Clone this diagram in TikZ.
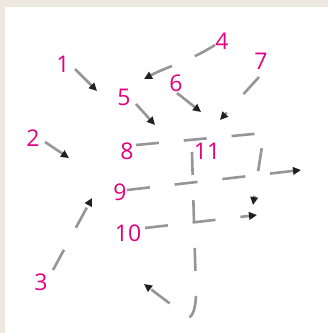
\documentclass[tikz,border=0pt]{standalone}
\usepackage{fontspec}
\usetikzlibrary{arrows.meta}
\newfontfamily\numfont{Open Sans}
\definecolor{pageBeige}{RGB}{237,233,223}
\definecolor{strokeGray}{RGB}{150,150,153}
\definecolor{numPink}{RGB}{228,0,127}
\definecolor{tipBlack}{RGB}{35,31,32}
\tikzset{
  num/.style={text=numPink, inner sep=0pt, font=\numfont\fontsize{23}{23}\selectfont},
  seg/.style={draw=strokeGray, line width=2.6pt, dash pattern=on 23pt off 25pt},
  segarrow/.style={seg, -{Triangle[length=8pt, width=7.5pt, color=tipBlack]}}
}
\begin{document}
\begin{tikzpicture}[x=1pt, y=-1pt]
\fill[pageBeige] (0,0) rectangle (328,333);
\fill[white] (5,7) rectangle (328,333);
\useasboundingbox (0,0) rectangle (328,333);
\node[num] (n1) at (63,64) {1};
\node[num] (n2) at (33,138) {2};
\node[num] (n3) at (41,282) {3};
\node[num] (n4) at (222,41) {4};
\node[num] (n5) at (124,97) {5};
\node[num] (n6) at (176,83) {6};
\node[num] (n7) at (261,61) {7};
\node[num] (n8) at (127,151) {8};
\node[num] (n9) at (120,192) {9};
\node[num] (n10) at (128,233) {10};
\node[num] (n11) at (207,151) {11};
\coordinate (a1) at (75,69);   \coordinate (b1) at (97,91);
\coordinate (a2) at (45,142);  \coordinate (b2) at (69,158);
\coordinate (a3) at (53,270);  \coordinate (b3) at (92,198);
\coordinate (a4) at (215,45);  \coordinate (b4) at (144,79);
\coordinate (a5) at (136,104); \coordinate (b5) at (155,125);
\coordinate (a6) at (177,93);  \coordinate (b6) at (201,112);
\coordinate (a7) at (259,77);  \coordinate (b7) at (220,120);
\coordinate (a8) at (136,145); \coordinate (k8) at (264,133); \coordinate (b8) at (253,205);
\coordinate (a9) at (127,190); \coordinate (b9) at (301,170);
\coordinate (a10) at (145,228); \coordinate (b10) at (257,215);
\coordinate (a11) at (192,152); \coordinate (k11) at (196,292);
\coordinate (c11) at (189,318); \coordinate (b11) at (144,284);
\draw[segarrow] (a1) -- (b1);
\draw[segarrow] (a2) -- (b2);
\draw[segarrow] (a3) -- (b3);
\draw[segarrow] (a4) .. controls (190,61) and (166,67) .. (b4);
\draw[segarrow] (a5) -- (b5);
\draw[segarrow] (a6) -- (b6);
\draw[segarrow] (a7) -- (b7);
\draw[segarrow] (a8) -- (k8) -- (b8);
\draw[segarrow] (a9) -- (b9);
\draw[segarrow] (a10) -- (b10);
\draw[segarrow] (a11) -- (k11) .. controls (196,308) and (193,315) .. (c11) -- (b11);
\end{tikzpicture}
\end{document}
